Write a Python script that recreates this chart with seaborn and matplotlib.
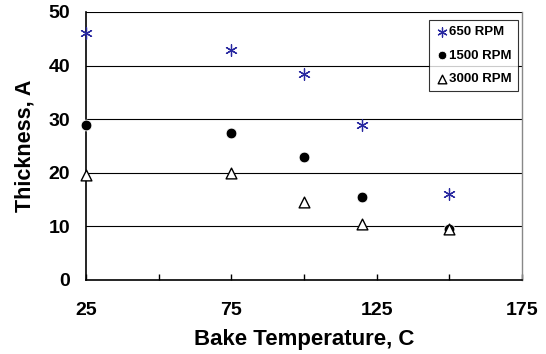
import matplotlib
matplotlib.use("Agg")
import matplotlib.pyplot as plt
import seaborn as sns
import pandas as pd
from matplotlib.ticker import MultipleLocator, FixedLocator

temps = [25, 75, 100, 120, 150]
rpm650 = [46, 43, 38.5, 29, 16]
rpm1500 = [29, 27.5, 23, 15.5, 9.5]
rpm3000 = [19.5, 20, 14.5, 10.5, 9.5]
series_names = ["650 RPM", "1500 RPM", "3000 RPM"]

df = pd.DataFrame({
    "Temp": temps * 3,
    "Thickness": rpm650 + rpm1500 + rpm3000,
    "Series": [series_names[0]] * 5 + [series_names[1]] * 5 + [series_names[2]] * 5,
})

sns.set_style("white")
plt.rcParams['font.family'] = ['Liberation Sans', 'DejaVu Sans']
plt.rcParams['text.color'] = 'black'
plt.rcParams['axes.labelcolor'] = 'black'
plt.rcParams['xtick.color'] = 'black'
plt.rcParams['ytick.color'] = 'black'

fig = plt.figure(figsize=(5.46, 3.54), dpi=100)
ax = fig.add_axes([86/546, 74/354, (522-86)/546, (280-12)/354])

for y in [10, 20, 30, 40, 50]:
    ax.axhline(y, color="black", lw=0.8, zorder=0)

styles = {
    "650 RPM": dict(marker=(6, 2, 0), color="#2828a0", s=70, linewidths=0.9),
    "1500 RPM": dict(marker="o", color="black", s=60),
    "3000 RPM": dict(marker="^", facecolor="white", edgecolor="black", s=60, linewidths=1.0),
}
for name in series_names:
    sub = df[df["Series"] == name]
    sns.scatterplot(data=sub, x="Temp", y="Thickness", ax=ax, label=name,
                    clip_on=False, zorder=3, **styles[name])

ax.set_xlim(25, 175)
ax.set_ylim(0, 50)
ax.xaxis.set_major_locator(FixedLocator([25, 75, 125, 175]))
ax.xaxis.set_minor_locator(FixedLocator([50, 100, 150]))
ax.yaxis.set_major_locator(MultipleLocator(10))
ax.tick_params(axis="x", which="both", direction="in", length=4, width=1, pad=16,
               labelsize=14, bottom=True)
ax.tick_params(axis="y", which="both", length=0, pad=11.5, labelsize=14)
for lab in ax.get_xticklabels() + ax.get_yticklabels():
    lab.set_fontweight("bold")

ax.set_xlabel("Bake Temperature, C", fontsize=16, fontweight="bold", labelpad=7)
ax.set_ylabel("Thickness, A", fontsize=15.5, fontweight="bold", labelpad=9)

for side in ["left", "bottom"]:
    ax.spines[side].set_color("black")
    ax.spines[side].set_linewidth(1.2)
ax.spines["right"].set_color("#888888")
ax.spines["right"].set_linewidth(1.0)
ax.spines["top"].set_visible(False)

leg = ax.legend(loc="upper right", bbox_to_anchor=(518/546, 334/354),
                bbox_transform=fig.transFigure, borderaxespad=0.0,
                frameon=True, fancybox=False,
                edgecolor="black", handletextpad=0.1, handlelength=1.0,
                borderpad=0.45, labelspacing=0.85, markerscale=0.8,
                prop={"weight": "bold", "size": 9.5})
leg.get_frame().set_linewidth(0.8)

fig.savefig("out.png", dpi=100)
